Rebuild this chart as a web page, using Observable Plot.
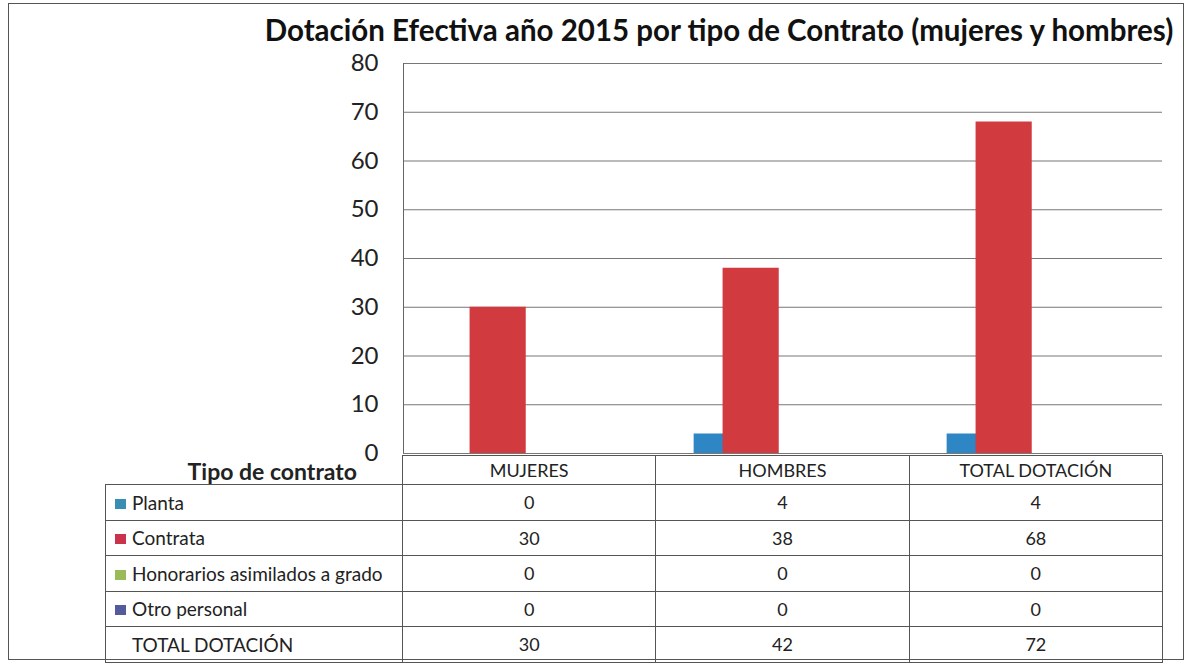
<!DOCTYPE html>
<html>
<head>
<meta charset="utf-8">
<script src="https://cdn.jsdelivr.net/npm/d3@7"></script>
<script src="https://cdn.jsdelivr.net/npm/@observablehq/plot@0.6"></script>
<style>
  html, body { margin: 0; padding: 0; background: #fff; }
  #wrap { position: relative; width: 1188px; height: 666px; overflow: hidden; font-family: Lato, "Open Sans", sans-serif; color: #222; }
  #frame { position: absolute; left: 8px; top: 3px; width: 1176px; height: 657px; border: 1px solid #555; box-sizing: border-box; }
  #title { position: absolute; left: 258px; width: 922px; top: 10px; text-align: center; font-weight: bold; font-size: 29.5px; line-height: 40px; white-space: nowrap; color: #111; }
  #chart { position: absolute; left: 0; top: 0; }
  #tbl { position: absolute; left: 105px; top: 455px; border-collapse: collapse; table-layout: fixed; font-size: 18px; }
  #tbl td { border: 1px solid #555; padding: 0; text-align: center; white-space: nowrap; }
  #tbl tr.head td { height: 28px; }
  #tbl tr.row td { height: 34.5px; }
  #tbl td.lab { text-align: left; padding-left: 9px; font-size: 19px; }
  #tbl td.corner { border-left: none; border-top: none; text-align: right; padding-right: 45px; font-weight: bold; font-size: 23px; vertical-align: bottom; line-height: 26px; }
  .key { display: inline-block; width: 11px; height: 10px; margin-right: 6px; vertical-align: 1px; }
  .nokey { display: inline-block; width: 17px; }
</style>
</head>
<body>
<div id="wrap">
  <div id="frame"></div>
  <div id="title">Dotación Efectiva año 2015 por tipo de Contrato (mujeres y hombres)</div>
  <div id="chart"></div>
  <table id="tbl"></table>
</div>
<script>
// ---- data ----
const categories = ["MUJERES", "HOMBRES", "TOTAL DOTACIÓN"];
const seriesNames = ["Planta", "Contrata", "Honorarios asimilados a grado", "Otro personal"];
const planta = [0, 4, 4];
const contrata = [30, 38, 68];
const honorarios = [0, 0, 0];
const otro = [0, 0, 0];
const totalDotacion = [30, 42, 72];
const totalLabel = "TOTAL DOTACIÓN";
const tableTitle = "Tipo de contrato";
const yTicks = [0, 10, 20, 30, 40, 50, 60, 70, 80];

// ---- styles / layout ----
const colors = ["#2e86c4", "#d13a3f", "#9bbb59", "#55609f"];
const keyColors = ["#3a8db3", "#c9334b", "#9bbb59", "#535b9c"];
const slot = [-2.1, -1.1, -0.1, 0.9];   // series position within a category group
const halfW = 0.97;
const xDom = [-4.37, 4.37];

const seriesValues = [planta, contrata, honorarios, otro];
const rows = [];
categories.forEach((c, ci) => {
  seriesValues.forEach((vals, si) => {
    rows.push({cat: c, series: seriesNames[si], si, value: vals[ci]});
  });
});

const chart = Plot.plot({
  width: 1188,
  height: 470,
  marginTop: 63,
  marginBottom: 17,
  marginLeft: 402,
  marginRight: 26,
  style: {fontFamily: "Lato, 'Open Sans', sans-serif", fontSize: "24px", color: "#222", background: "transparent", overflow: "visible"},
  fx: {domain: categories, padding: 0, axis: null},
  x: {domain: xDom, axis: null},
  y: {domain: [0, 80], axis: null},
  color: {domain: seriesNames, range: colors},
  marks: [
    Plot.gridY(yTicks, {stroke: "#777", strokeOpacity: 1, strokeWidth: 1}),
    Plot.ruleX([{fx: categories[0]}], {x: () => xDom[0], fx: "fx", y1: 0, y2: 80, stroke: "#666", strokeWidth: 1}),
    Plot.rectY(rows, {
      fx: "cat",
      x1: d => slot[d.si] - halfW,
      x2: d => slot[d.si] + halfW,
      y1: 0,
      y2: "value",
      fill: "series"
    }),
    Plot.axisY(yTicks, {anchor: "left", label: null, tickSize: 0, tickPadding: 25, fontSize: 24, fill: "#222", tickFormat: d => String(d)})
  ]
});
document.getElementById("chart").appendChild(chart);

// ---- data table ----
const tbl = document.getElementById("tbl");
const colgroup = document.createElement("colgroup");
[297, 253.33, 253.33, 253.33].forEach(w => {
  const col = document.createElement("col");
  col.style.width = w + "px";
  colgroup.appendChild(col);
});
tbl.appendChild(colgroup);

const head = document.createElement("tr");
head.className = "head";
const corner = document.createElement("td");
corner.className = "corner";
corner.textContent = tableTitle;
head.appendChild(corner);
categories.forEach(c => {
  const td = document.createElement("td");
  td.textContent = c;
  head.appendChild(td);
});
tbl.appendChild(head);

seriesNames.forEach((s, si) => {
  const tr = document.createElement("tr");
  tr.className = "row";
  const lab = document.createElement("td");
  lab.className = "lab";
  const key = document.createElement("span");
  key.className = "key";
  key.style.background = keyColors[si];
  lab.appendChild(key);
  lab.appendChild(document.createTextNode(s));
  tr.appendChild(lab);
  seriesValues[si].forEach(v => {
    const td = document.createElement("td");
    td.textContent = v;
    tr.appendChild(td);
  });
  tbl.appendChild(tr);
});
const trT = document.createElement("tr");
trT.className = "row";
const labT = document.createElement("td");
labT.className = "lab";
const nk = document.createElement("span");
nk.className = "nokey";
labT.appendChild(nk);
labT.appendChild(document.createTextNode(totalLabel));
trT.appendChild(labT);
totalDotacion.forEach(v => {
  const td = document.createElement("td");
  td.textContent = v;
  trT.appendChild(td);
});
tbl.appendChild(trT);
</script>
</body>
</html>
